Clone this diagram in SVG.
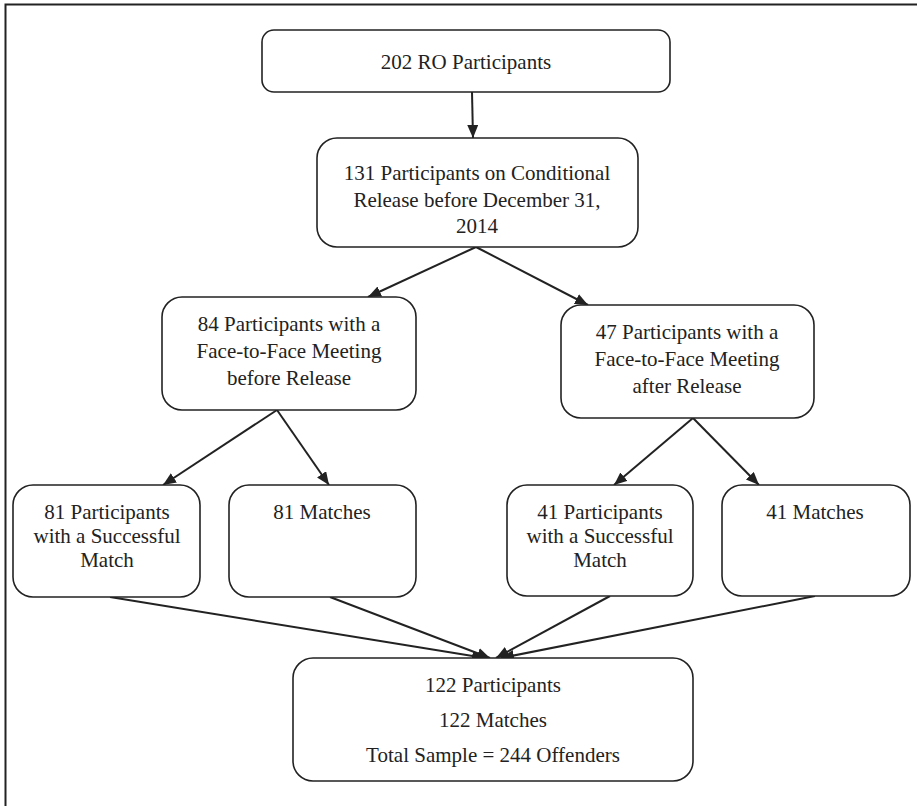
<svg xmlns="http://www.w3.org/2000/svg" width="917" height="806" viewBox="0 0 917 806">
<style>
.box{fill:#fff;stroke:#222;stroke-width:1.6}
.t{font-family:'Liberation Serif','DejaVu Serif',serif;font-size:21px;fill:#222;text-anchor:middle}
.c{stroke:#222;stroke-width:2;fill:none;marker-end:url(#ah)}
</style>
<defs>
<marker id="ah" markerUnits="userSpaceOnUse" markerWidth="14" markerHeight="12" refX="13" refY="5.5" orient="auto">
<path d="M0,0 L13,5.5 L0,11 Z" fill="#222"/>
</marker>
</defs>
<rect width="917" height="806" fill="#fff"/>
<path d="M5.5,806 V4.5 H917" fill="none" stroke="#222" stroke-width="2"/>
<g id="connectors">
<line class="c" x1="472" y1="92" x2="473" y2="138"/>
<line class="c" x1="476" y1="247" x2="368" y2="297"/>
<line class="c" x1="476" y1="247" x2="588" y2="305"/>
<line class="c" x1="277" y1="410" x2="163" y2="485"/>
<line class="c" x1="277" y1="410" x2="329" y2="485"/>
<line class="c" x1="693" y1="418" x2="614" y2="485"/>
<line class="c" x1="693" y1="418" x2="759" y2="485"/>
<line class="c" x1="110" y1="597" x2="485" y2="658"/>
<line class="c" x1="330" y1="597" x2="490" y2="658"/>
<line class="c" x1="610" y1="596" x2="496" y2="658"/>
<line class="c" x1="815" y1="596" x2="501" y2="658"/>
</g>
<g id="n1">
<rect class="box" x="262" y="30" width="408" height="62" rx="12"/>
<text class="t" x="466" y="69">202 RO Participants</text>
</g>
<g id="n2">
<rect class="box" x="317" y="138" width="321" height="109" rx="20"/>
<text class="t" x="477" y="180">131 Participants on Conditional</text>
<text class="t" x="477" y="207">Release before December 31,</text>
<text class="t" x="477" y="233">2014</text>
</g>
<g id="n3">
<rect class="box" x="162" y="297" width="254" height="113" rx="20"/>
<text class="t" x="289" y="331">84 Participants with a</text>
<text class="t" x="289" y="358">Face-to-Face Meeting</text>
<text class="t" x="289" y="385">before Release</text>
</g>
<g id="n4">
<rect class="box" x="561" y="305" width="253" height="113" rx="20"/>
<text class="t" x="687" y="339">47 Participants with a</text>
<text class="t" x="687" y="366">Face-to-Face Meeting</text>
<text class="t" x="687" y="393">after Release</text>
</g>
<g id="n5">
<rect class="box" x="13" y="485" width="187" height="112" rx="20"/>
<text class="t" x="107" y="519">81 Participants</text>
<text class="t" x="107" y="543">with a Successful</text>
<text class="t" x="107" y="567">Match</text>
</g>
<g id="n6">
<rect class="box" x="229" y="485" width="187" height="112" rx="20"/>
<text class="t" x="322" y="519">81 Matches</text>
</g>
<g id="n7">
<rect class="box" x="507" y="485" width="186" height="111" rx="20"/>
<text class="t" x="600" y="519">41 Participants</text>
<text class="t" x="600" y="543">with a Successful</text>
<text class="t" x="600" y="567">Match</text>
</g>
<g id="n8">
<rect class="box" x="722" y="485" width="188" height="111" rx="20"/>
<text class="t" x="815" y="519">41 Matches</text>
</g>
<g id="n9">
<rect class="box" x="293" y="658" width="400" height="123" rx="20"/>
<text class="t" x="493" y="692">122 Participants</text>
<text class="t" x="493" y="727">122 Matches</text>
<text class="t" x="493" y="762">Total Sample = 244 Offenders</text>
</g>
</svg>
